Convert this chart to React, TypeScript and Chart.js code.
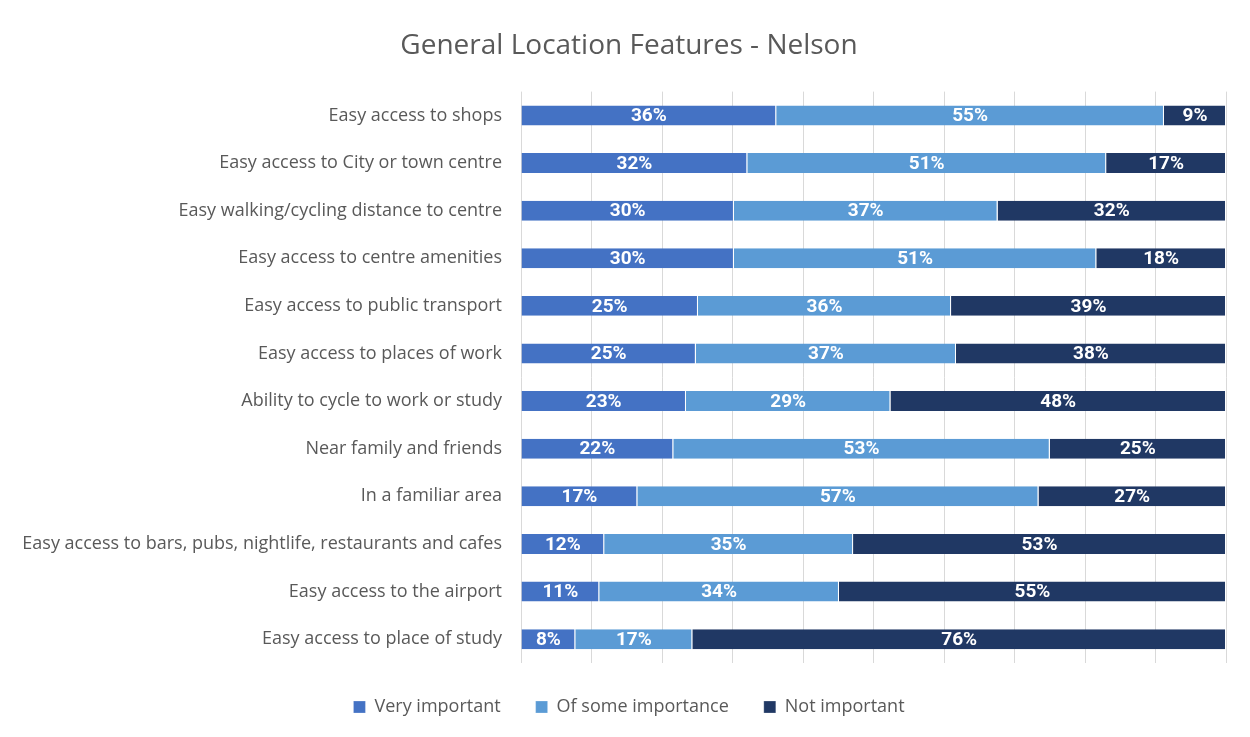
import React, { useEffect, useRef } from "react";
import { Chart, registerables } from "chart.js";

Chart.register(...registerables);

const categories = [
  "Easy access to shops",
  "Easy access to City or town centre",
  "Easy walking/cycling distance to centre",
  "Easy access to centre amenities",
  "Easy access to public transport",
  "Easy access to places of work",
  "Ability to cycle to work or study",
  "Near family and friends",
  "In a familiar area",
  "Easy access to bars, pubs, nightlife, restaurants and cafes",
  "Easy access to the airport",
  "Easy access to place of study",
];

const veryImportant = [36.2, 32.1, 30.2, 30.2, 25.1, 24.8, 23.4, 21.6, 16.5, 11.8, 11.1, 7.7];
const someImportance = [55.0, 50.9, 37.4, 51.4, 35.9, 36.9, 29.0, 53.4, 56.9, 35.3, 34.0, 16.6];
const notImportant = [8.8, 17.0, 32.4, 18.4, 39.0, 38.3, 47.6, 25.0, 26.6, 52.9, 54.9, 75.7];

const seriesNames = ["Very important", "Of some importance", "Not important"];
const seriesColors = ["#4472C4", "#5B9BD5", "#203864"];

const chartTitle = "General Location Features - Nelson";
const axisMax = 100;
const axisStep = 10;

export default function App() {
  const ref = useRef<HTMLCanvasElement | null>(null);

  useEffect(() => {
    if (!ref.current) return;

    const framePlugin = {
      id: "frame",
      afterLayout(chart: any) {
        // let long category labels extend into the left padding without clipping
        if (chart.scales.y) chart.scales.y.left = 0;
      },
      afterDraw(chart: any) {
        const ctx = chart.ctx;
        ctx.save();
        ctx.fillStyle = "#D4D4D4";
        ctx.fillRect(6, 5, 1, chart.height - 5);
        ctx.fillRect(6, 5, chart.width - 6, 1);
        ctx.restore();
      },
    };

    const labelPlugin = {
      id: "segLabels",
      afterDatasetsDraw(chart: any) {
        const ctx = chart.ctx;
        ctx.save();
        ctx.font = "bold 19px Roboto";
        ctx.fillStyle = "#ffffff";
        ctx.textAlign = "center";
        ctx.textBaseline = "middle";
        chart.data.datasets.forEach((ds: any, i: number) => {
          const meta = chart.getDatasetMeta(i);
          meta.data.forEach((bar: any, j: number) => {
            const v = ds.data[j];
            const p = bar.getProps(["x", "y", "base"], true);
            ctx.fillText(Math.round(v) + "%", (p.x + p.base) / 2, p.y + 1);
          });
        });
        ctx.restore();
      },
    };

    const seriesData = [veryImportant, someImportance, notImportant];
    const chart = new Chart(ref.current, {
      type: "bar",
      data: {
        labels: categories,
        datasets: seriesNames.map((name, i) => ({
          label: name,
          data: seriesData[i],
          backgroundColor: seriesColors[i],
          borderColor: "#ffffff",
          borderWidth: { left: 0, right: 1, top: 0, bottom: 0 },
          borderSkipped: false,
          categoryPercentage: 0.42,
          barPercentage: 1,
        })),
      },
      options: {
        indexAxis: "y",
        responsive: false,
        animation: false,
        devicePixelRatio: 1,
        layout: { padding: { left: 32, right: 24, top: 0, bottom: 11 } },
        font: { family: "'Open Sans'" },
        scales: {
          x: {
            stacked: true,
            min: 0,
            max: axisMax,
            ticks: { display: false, stepSize: axisStep },
            grid: { color: "#D9D9D9", lineWidth: 1, drawTicks: false },
            border: { display: false },
          },
          y: {
            stacked: true,
            afterFit: (s: any) => {
              s.width = 489;
            },
            ticks: {
              color: "#595959",
              padding: 19,
              font: { family: "'Open Sans'", size: 18 },
            },
            grid: { display: false, drawTicks: false },
            border: { display: false },
          },
        },
        plugins: {
          title: {
            display: true,
            text: chartTitle,
            color: "#595959",
            font: { family: "'Open Sans'", size: 28, weight: "normal" },
            padding: { top: 29, bottom: 29 },
          },
          legend: {
            display: true,
            position: "bottom",
            labels: {
              color: "#595959",
              boxWidth: 12,
              boxHeight: 12,
              padding: 35,
              font: { family: "'Open Sans'", size: 18 },
            },
          },
          tooltip: { enabled: false },
        },
      },
      plugins: [framePlugin, labelPlugin],
    } as any);
    return () => chart.destroy();
  }, []);

  return (
    <div style={{ position: "relative", width: 1250, height: 737, margin: -8, overflow: "hidden", background: "#fff" }}>
      <canvas ref={ref} width={1250} height={737} style={{ position: "absolute", left: 0, top: 0 }} />
    </div>
  );
}
